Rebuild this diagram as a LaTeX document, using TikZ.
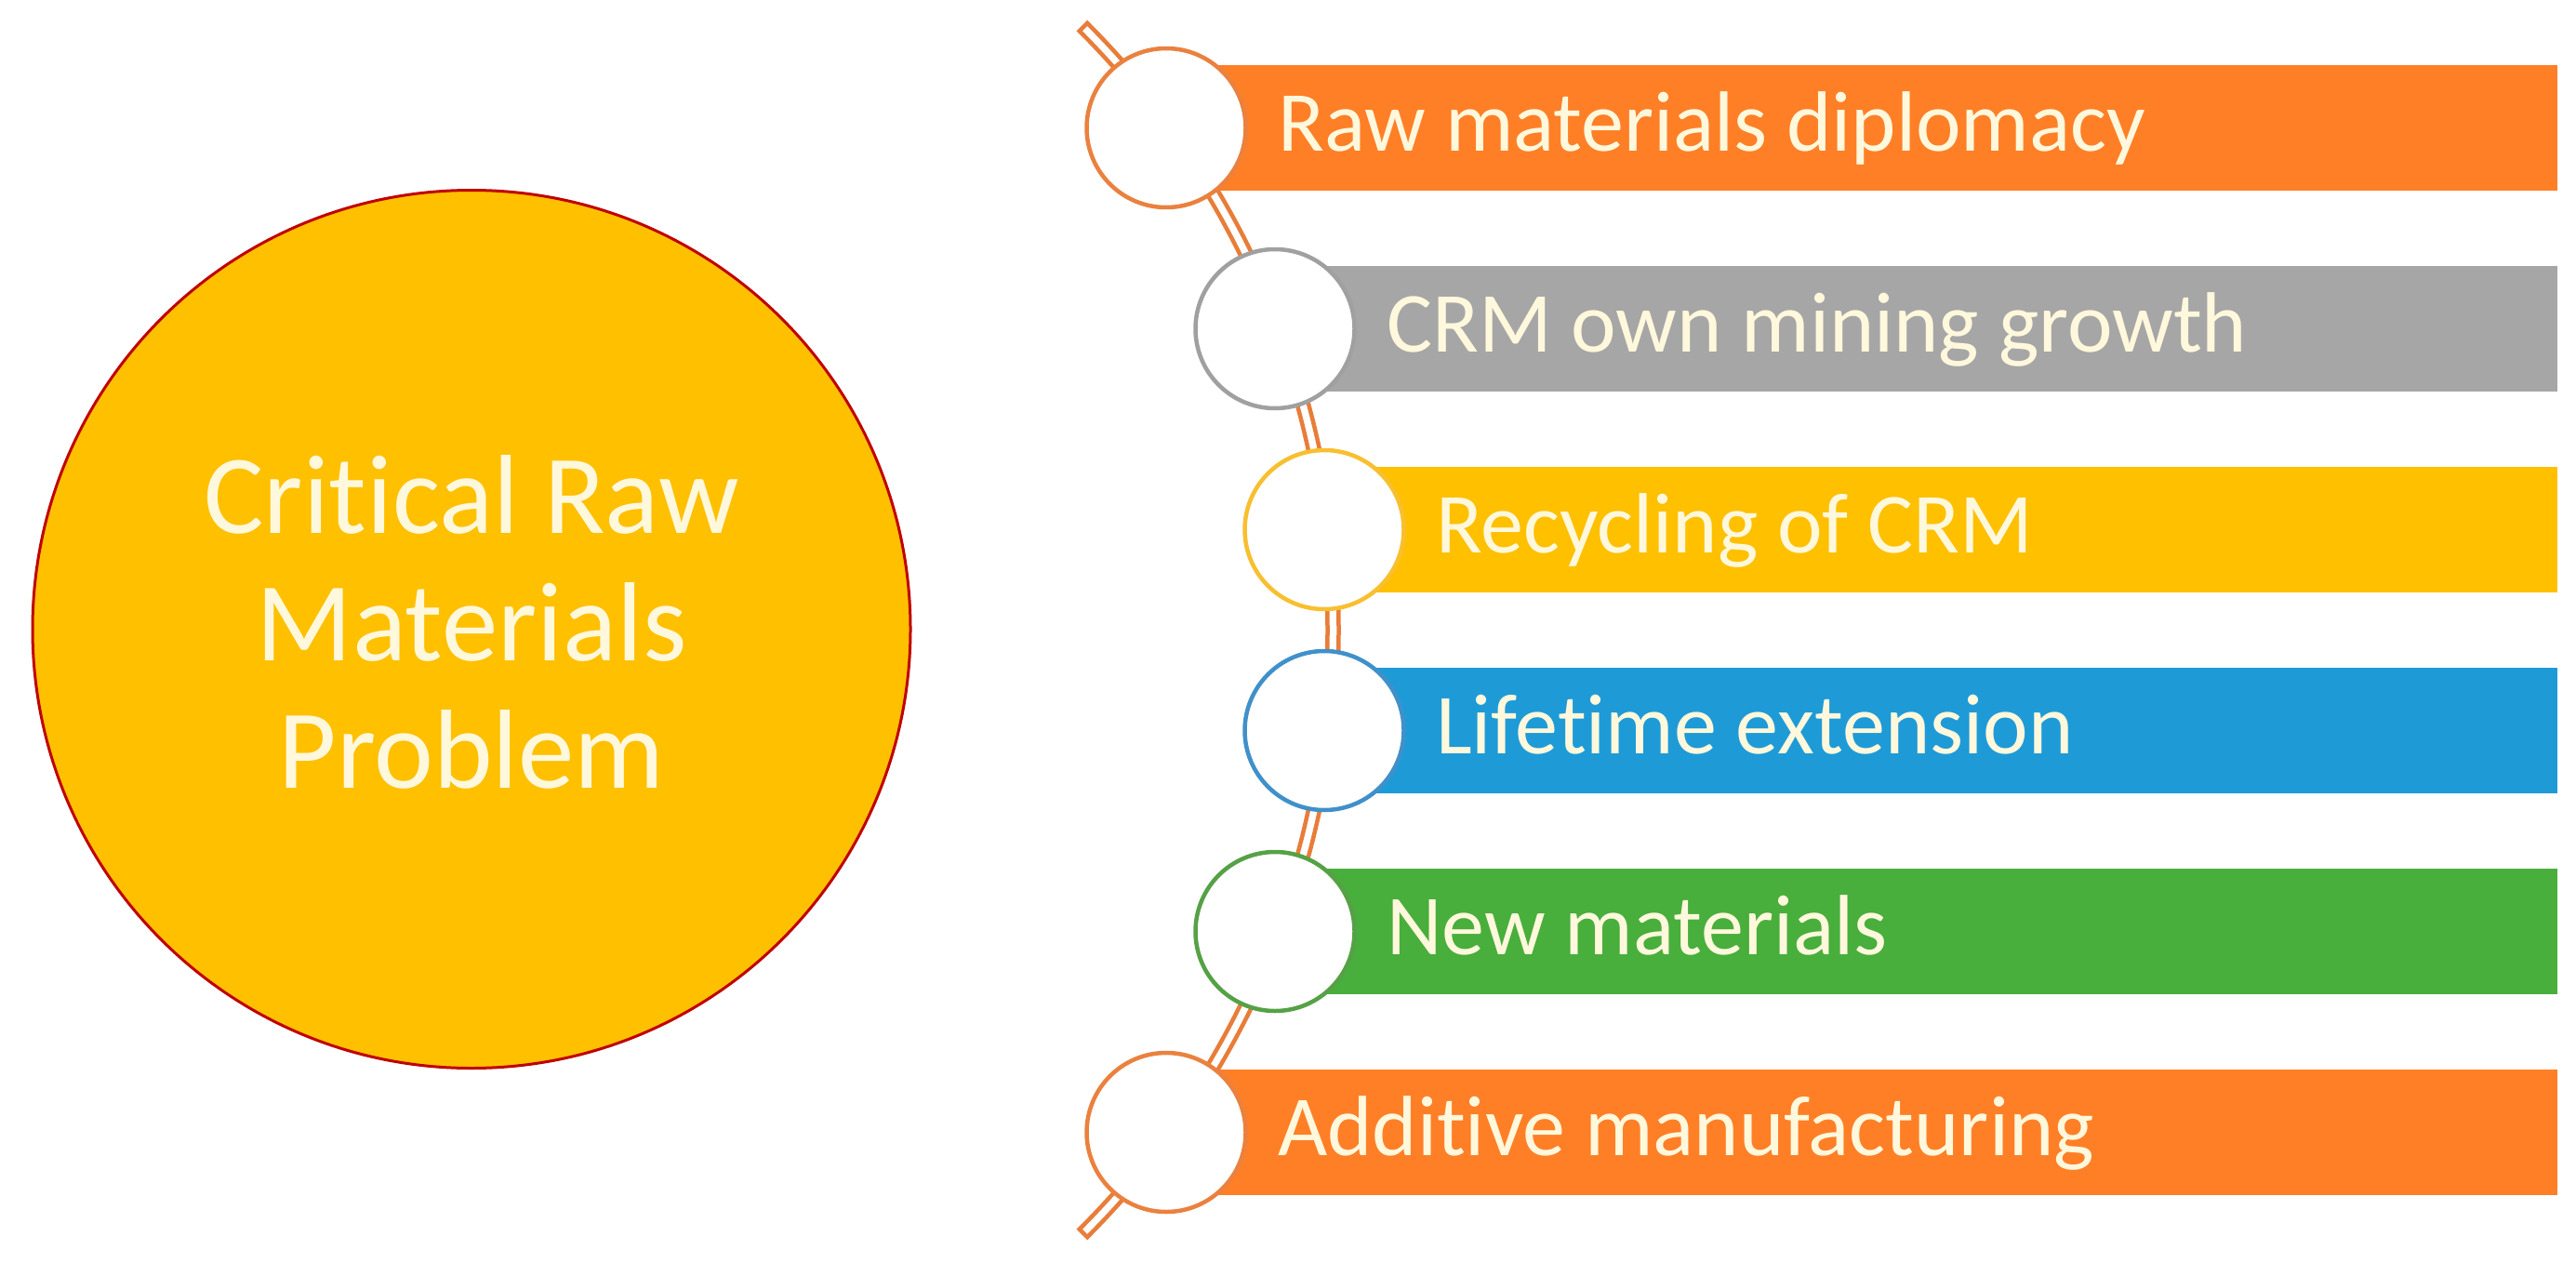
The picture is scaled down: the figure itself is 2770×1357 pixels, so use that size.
\documentclass[tikz,border=0pt]{standalone}
\usepackage{fontspec}
\setmainfont[Ligatures=NoCommon]{Carlito}
\usetikzlibrary{calc}
\definecolor{corange}{HTML}{FF7F27}
\definecolor{cgray}{HTML}{A6A6A6}
\definecolor{cyellow}{HTML}{FFC000}
\definecolor{cblue}{HTML}{1E9BD7}
\definecolor{cgreen}{HTML}{48AE3C}
\definecolor{rorange}{HTML}{EA813F}
\definecolor{rgray}{HTML}{A0A0A0}
\definecolor{ryellow}{HTML}{F8BF30}
\definecolor{rblue}{HTML}{4090CA}
\definecolor{rgreen}{HTML}{56A146}
\definecolor{arcline}{HTML}{E87D3A}
\definecolor{ctext}{HTML}{FFF8DC}
\definecolor{bigfill}{HTML}{FFC000}
\definecolor{bigline}{HTML}{C00000}
\begin{document}
\begin{tikzpicture}[x=1pt,y=-1pt,
  bar/.style={rectangle, inner sep=0pt, outer sep=0pt, anchor=west, minimum height=135pt},
  ring/.style={circle, fill=white, line width=4.5pt, minimum size=171pt, inner sep=0pt},
  lbl/.style={anchor=base west, inner sep=0pt, text=ctext, font=\fontsize{92}{110}\selectfont},
  bigc/.style={circle, fill=bigfill, draw=bigline, line width=3pt, minimum size=944pt, inner sep=0pt},
  bigtext/.style={align=center, inner sep=0pt, text=ctext, font=\fontsize{121}{137}\selectfont},
  blockarc/.style={draw=arcline, fill=white, line width=4.5pt, line join=miter}
]
\useasboundingbox (0,0) rectangle (2770,1357);

% big circle
\node[bigc] (crm) at (507,676.5) {};
\node[bigtext, yshift=8pt] (crmtext) at (crm.center) {Critical Raw\\Materials\\Problem};

% centres of the small circles (on an arc about (516.5,677.5), radius 914)
\coordinate (ac) at (516.5,677.5);
\coordinate (c1) at (1254,137.5);
\coordinate (c2) at (1371,353.5);
\coordinate (c3) at (1424,569.5);
\coordinate (c4) at (1424,785.5);
\coordinate (c5) at (1371,1001.5);
\coordinate (c6) at (1254,1217.5);

% bars
\node[bar, fill=corange, minimum width=1496pt] (b1) at (c1) {};
\node[bar, fill=cgray,   minimum width=1379pt] (b2) at (c2) {};
\node[bar, fill=cyellow, minimum width=1326pt] (b3) at (c3) {};
\node[bar, fill=cblue,   minimum width=1326pt] (b4) at (c4) {};
\node[bar, fill=cgreen,  minimum width=1379pt] (b5) at (c5) {};
\node[bar, fill=corange, minimum width=1496pt] (b6) at (c6) {};

% curved double line (block arc)
\draw[blockarc] ($(ac)+(-45:923)$) arc[start angle=-45, end angle=45, radius=923]
  -- ($(ac)+(45:911)$) arc[start angle=45, end angle=-45, radius=911] -- cycle;

% circles
\node[ring, draw=rorange] (r1) at (c1) {};
\node[ring, draw=rgray]   (r2) at (c2) {};
\node[ring, draw=ryellow] (r3) at (c3) {};
\node[ring, draw=rblue]   (r4) at (c4) {};
\node[ring, draw=rgreen]  (r5) at (c5) {};
\node[ring, draw=rorange] (r6) at (c6) {};

% labels
\node[lbl] (t1) at ($(c1)+(120,25)$) {Raw materials diplomacy};
\node[lbl] (t2) at ($(c2)+(120,25)$) {CRM own mining growth};
\node[lbl] (t3) at ($(c3)+(120,25)$) {Recycling of CRM};
\node[lbl] (t4) at ($(c4)+(120,25)$) {Lifetime extension};
\node[lbl] (t5) at ($(c5)+(120,25)$) {New materials};
\node[lbl] (t6) at ($(c6)+(120,25)$) {Additive manufacturing};
\end{tikzpicture}
\end{document}
